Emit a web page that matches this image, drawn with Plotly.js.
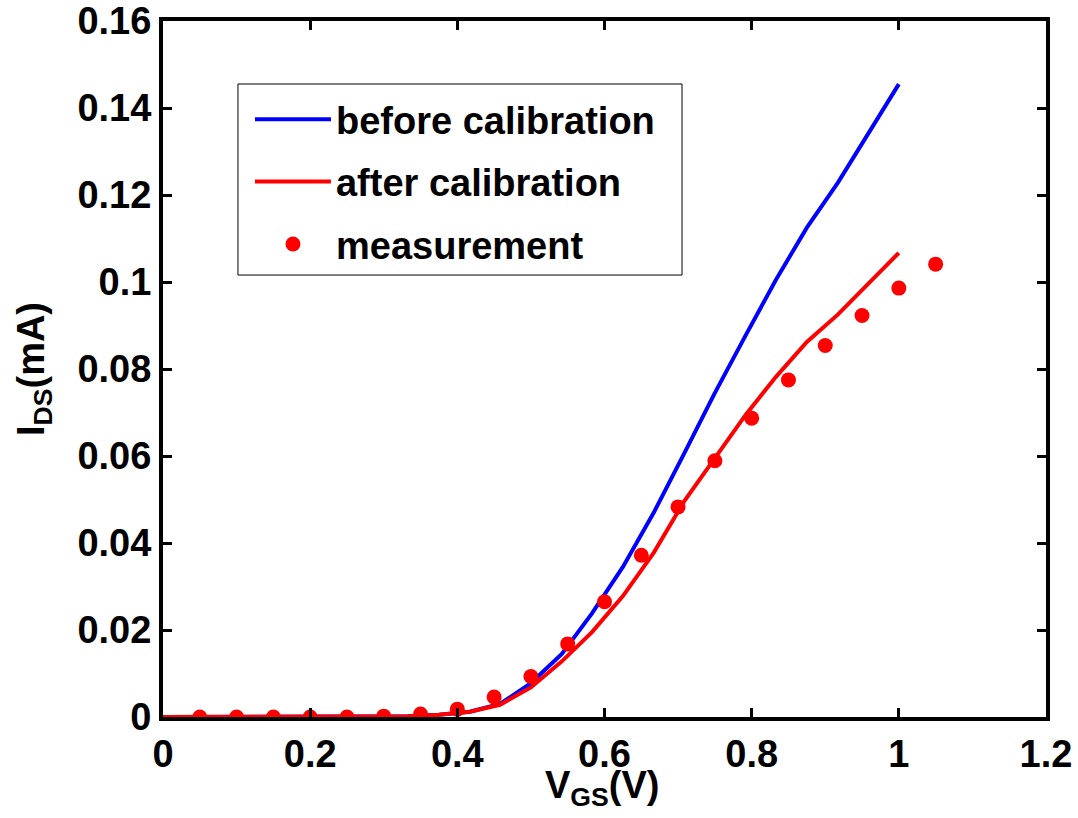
<!DOCTYPE html>
<html>
<head>
<meta charset="utf-8">
<script src="https://cdn.plot.ly/plotly-3.0.1.min.js"></script>
<style>html,body{margin:0;padding:0;background:#fff;}#chart{width:1078px;height:818px;}</style>
</head>
<body>
<div id="chart"></div>
<script>
// Simulation (before calibration)
var simX = [0, 0.042, 0.083, 0.125, 0.167, 0.208, 0.25, 0.292, 0.333, 0.375, 0.417, 0.458, 0.5, 0.542, 0.583, 0.625, 0.667, 0.708, 0.75, 0.792, 0.833, 0.875, 0.917, 0.958, 1.0];
var beforeY = [0, 0, 0, 0, 0, 0, 0, 0.0001, 0.0002, 0.0005, 0.0012, 0.003, 0.0078, 0.0145, 0.0238, 0.0345, 0.047, 0.0605, 0.0745, 0.0878, 0.1005, 0.1125, 0.1228, 0.134, 0.1455];
var afterY  = [0, 0, 0, 0, 0, 0, 0, 0.0001, 0.0002, 0.0005, 0.0012, 0.0028, 0.0068, 0.0128, 0.0195, 0.0278, 0.0378, 0.0495, 0.0595, 0.0695, 0.0782, 0.0862, 0.0925, 0.0995, 0.1067];
// Measurement
var measX = [0.05, 0.1, 0.15, 0.2, 0.25, 0.3, 0.35, 0.4, 0.45, 0.5, 0.55, 0.6, 0.65, 0.7, 0.75, 0.8, 0.85, 0.9, 0.95, 1.0, 1.05];
var measY = [0, 0, 0, 0, 0, 0.0002, 0.0007, 0.0018, 0.0046, 0.0093, 0.0168, 0.0265, 0.0372, 0.0483, 0.0589, 0.0687, 0.0775, 0.0854, 0.0923, 0.0986, 0.1041];
var xTicks = [0, 0.2, 0.4, 0.6, 0.8, 1, 1.2];
var xTickText = ['0', '0.2', '0.4', '0.6', '0.8', '1', '1.2'];
var yTicks = [0, 0.02, 0.04, 0.06, 0.08, 0.1, 0.12, 0.14, 0.16];
var yTickText = ['0', '0.02', '0.04', '0.06', '0.08', '0.1', '0.12', '0.14', '0.16'];
var names = ['before calibration', 'after calibration', 'measurement'];
var xTitle = 'V<sub>GS</sub>(V)';
var yTitle = 'I<sub>DS</sub>(mA)';

var FONT = 'Liberation Sans, Arial, sans-serif';
var SZ = 38;
var traces = [
  {x: simX, y: beforeY, name: names[0], legendgroup: 'g1', mode: 'lines', line: {color: '#0000ff', width: 4}},
  {x: simX, y: afterY, name: names[1], legendgroup: 'g2', mode: 'lines', line: {color: '#ff0000', width: 4}},
  {x: measX, y: measY, name: names[2], legendgroup: 'g3', mode: 'markers', marker: {color: '#ff0000', size: 15}}
];
var axisCommon = {
  showline: true, linecolor: '#000', linewidth: 4, mirror: 'ticks',
  ticks: 'inside', ticklen: 9, tickwidth: 3, tickcolor: '#000',
  showgrid: false, zeroline: false,
  tickfont: {family: FONT, size: SZ, color: '#000', weight: 'bold'}
};
var layout = {
  width: 1078, height: 818,
  margin: {l: 163, r: 32, t: 21, b: 101},
  paper_bgcolor: '#fff', plot_bgcolor: '#fff',
  showlegend: true,
  legend: {
    x: 0.0985, y: 0.9037, xanchor: 'left', yanchor: 'top',
    borderwidth: 0, bgcolor: 'rgba(0,0,0,0)',
    font: {family: FONT, size: SZ, color: '#000', weight: 'bold'},
    itemwidth: 76, tracegroupgap: 10, traceorder: 'grouped'
  },
  shapes: [
    {type: 'rect', xref: 'paper', yref: 'paper', x0: 0.0849, x1: 0.5878, y0: 0.635, y1: 0.9095,
     line: {color: '#000', width: 1}, fillcolor: 'rgba(0,0,0,0)', layer: 'below'}
  ],
  annotations: [
    {text: xTitle, xref: 'paper', yref: 'paper', x: 0.497, y: -0.064, xanchor: 'center', yanchor: 'top',
     showarrow: false, font: {family: FONT, size: SZ, color: '#000', weight: 'bold'}},
    {text: yTitle, xref: 'paper', yref: 'paper', x: -0.1755, y: 0.5, xanchor: 'left', yanchor: 'middle',
     textangle: -90, showarrow: false, font: {family: FONT, size: SZ, color: '#000', weight: 'bold'}}
  ],
  xaxis: Object.assign({}, axisCommon, {range: [0, 1.2], tickvals: xTicks, ticktext: xTickText}),
  yaxis: Object.assign({}, axisCommon, {range: [0, 0.16], tickvals: yTicks, ticktext: yTickText})
};
Plotly.newPlot('chart', traces, layout, {displayModeBar: false, staticPlot: true});
</script>
</body>
</html>
